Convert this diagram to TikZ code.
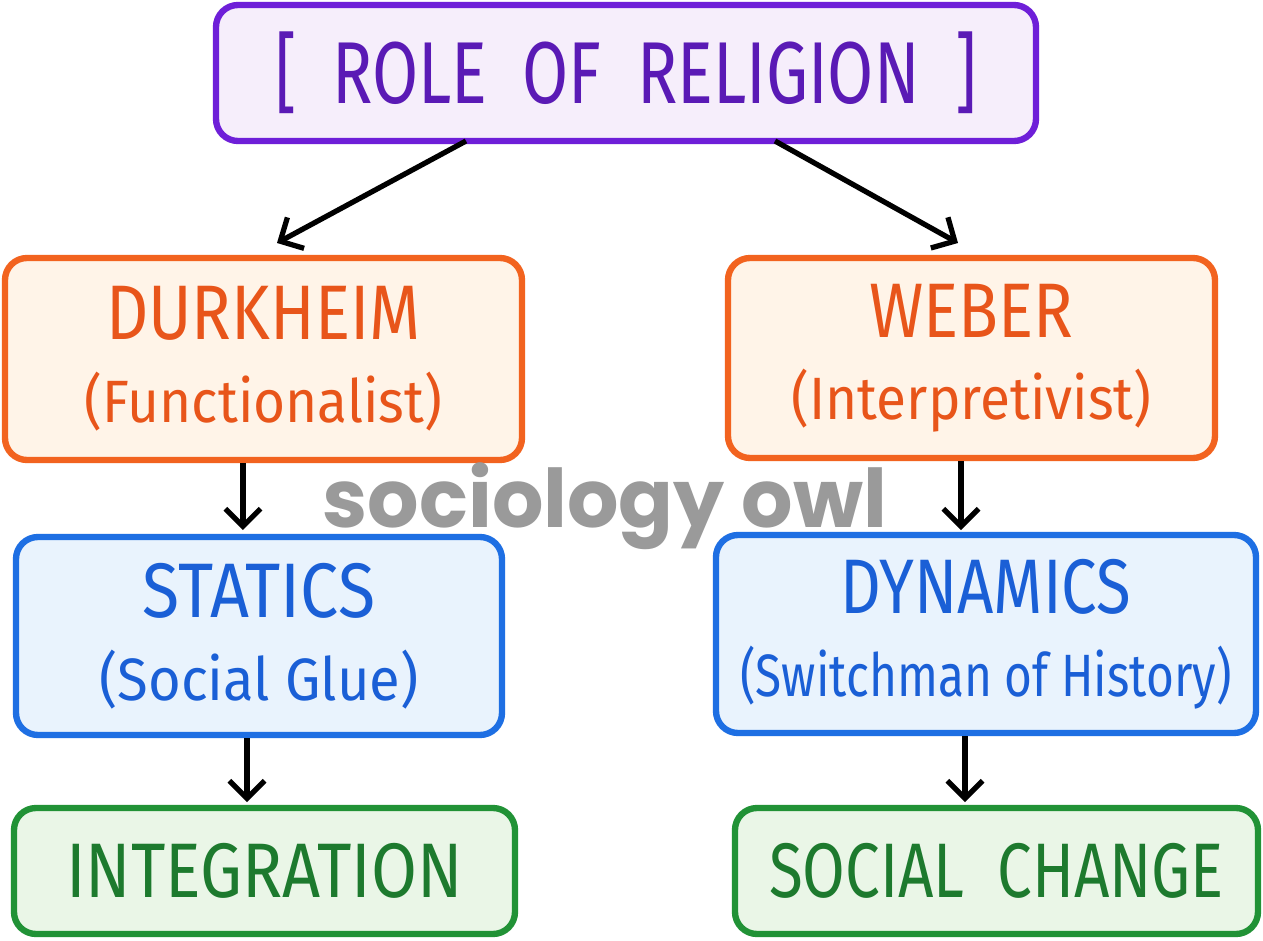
\documentclass[tikz,border=0pt]{standalone}
\usepackage{fontspec}
\setmainfont{Fira Sans}
\newfontfamily\wmfont{Poppins}
\usetikzlibrary{arrows.meta}
\definecolor{purB}{HTML}{6E1FD8}
\definecolor{purT}{HTML}{5A1AB5}
\definecolor{purF}{HTML}{F6EEFB}
\definecolor{orB}{HTML}{F2631F}
\definecolor{orT}{HTML}{E8551A}
\definecolor{orF}{HTML}{FFF4E8}
\definecolor{blB}{HTML}{1E6FE3}
\definecolor{blT}{HTML}{1A5FD6}
\definecolor{blF}{HTML}{E9F3FD}
\definecolor{grB}{HTML}{219236}
\definecolor{grT}{HTML}{1D7A2E}
\definecolor{grF}{HTML}{EAF6E7}
\definecolor{wmG}{HTML}{9A9A9A}
\tikzset{
  box/.style={draw, rounded corners=0.22cm, line width=1.8pt, align=center, inner sep=0pt},
  purbox/.style={box, draw=purB, fill=purF, text=purT},
  orbox/.style={box, draw=orB, fill=orF, text=orT},
  blbox/.style={box, draw=blB, fill=blF, text=blT},
  grbox/.style={box, draw=grB, fill=grF, text=grT},
  conn/.style={line width=1.5pt, black, -{Straight Barb[length=5pt,width=10pt,line width=1.5pt]}},
}
\newcommand{\sqz}[2]{\scalebox{#1}[1]{#2}}
\newcommand{\hdfont}{\fontsize{22}{22}\selectfont}
\newcommand{\subfont}{\fontsize{17}{17}\selectfont}
\begin{document}
\begin{tikzpicture}[x=1cm,y=-1cm]
\useasboundingbox[fill=white] (0,0) rectangle (12.63,9.41);
% boxes (centres in px/100)
\node[purbox, minimum width=8.20cm, minimum height=1.36cm] (title) at (6.26,0.73)
  {\fontsize{25}{26}\selectfont\sqz{0.76}{[\ \ ROLE\ \ OF\ \ RELIGION\ \ ]}};
\node[orbox, minimum width=5.17cm, minimum height=2.02cm] (durk) at (2.635,3.59)
  {\hdfont\sqz{0.85}{DURKHEIM}\\[8pt]\subfont\sqz{0.92}{(Functionalist)}};
\node[orbox, minimum width=4.87cm, minimum height=2.00cm] (weber) at (9.715,3.58)
  {\hdfont\sqz{0.85}{WEBER}\\[8pt]\subfont\sqz{0.92}{(Interpretivist)}};
\node[blbox, minimum width=4.86cm, minimum height=1.98cm] (stat) at (2.59,6.36)
  {\hdfont\sqz{0.88}{STATICS}\\[8pt]\subfont\sqz{0.94}{(Social\ Glue)}};
\node[blbox, minimum width=5.40cm, minimum height=1.98cm] (dyn) at (9.86,6.34)
  {\hdfont\sqz{0.82}{DYNAMICS}\\[8pt]\subfont\sqz{0.8}{(Switchman of History)}};
\node[grbox, minimum width=5.01cm, minimum height=1.26cm] (integ) at (2.645,8.71)
  {\hdfont\sqz{0.86}{INTEGRATION}};
\node[grbox, minimum width=5.23cm, minimum height=1.26cm] (soc) at (9.965,8.71)
  {\hdfont\sqz{0.8}{SOCIAL\ \ CHANGE}};
% connectors
\coordinate (t1) at (4.66,1.41);
\coordinate (t2) at (7.75,1.41);
\coordinate (d1) at (2.77,2.43);
\coordinate (w1) at (9.58,2.43);
\coordinate (s1) at (2.43,5.30);
\coordinate (y1) at (9.61,5.30);
\coordinate (i1) at (2.47,8.02);
\coordinate (c1) at (9.65,8.02);
\draw[conn] (t1) -- (d1);
\draw[conn] (t2) -- (w1);
\draw[conn] (durk.south -| s1) -- (s1);
\draw[conn] (weber.south -| y1) -- (y1);
\draw[conn] (stat.south -| i1) -- (i1);
\draw[conn] (dyn.south -| c1) -- (c1);
% watermark
\node[text=wmG, font=\wmfont\fontsize{23}{23}\selectfont\bfseries, inner sep=0pt] (wm) at (6.05,5.06) {sociology owl};
\end{tikzpicture}
\end{document}
